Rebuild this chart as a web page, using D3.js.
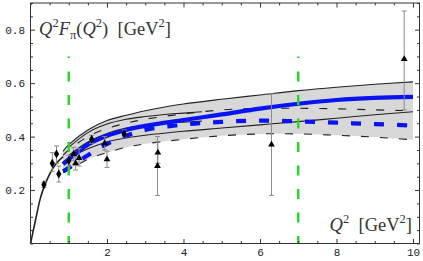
<!DOCTYPE html>
<html lang="en">
<head>
<meta charset="utf-8">
<script src="https://d3js.org/d3.v7.min.js"></script>
<title>Pion form factor</title>
<style>
  body { margin: 0; background: #fff; }
  svg { display: block; }
</style>
</head>
<body>
<div id="container"></div>
<script>
// ---- data ----
// band curves, all sampled on the same Q^2 grid
const bandX      = [0.85, 1, 1.5, 2, 2.5, 3, 4, 5, 6, 7, 8, 9, 10];
const upperSolid = [0.345, 0.37, 0.425, 0.46, 0.48, 0.497, 0.522, 0.54, 0.556, 0.572, 0.585, 0.596, 0.605];
const lowerSolid = [0.305, 0.32, 0.355, 0.38, 0.395, 0.405, 0.42, 0.432, 0.444, 0.456, 0.469, 0.482, 0.493];
const upperDash  = [0.33, 0.35, 0.40, 0.43, 0.45, 0.465, 0.485, 0.50, 0.506, 0.506, 0.504, 0.50, 0.497];
const lowerDash  = [0.265, 0.275, 0.315, 0.34, 0.36, 0.373, 0.39, 0.403, 0.41, 0.41, 0.405, 0.398, 0.388];
const blueSolid  = [0.297, 0.315, 0.37, 0.403, 0.425, 0.44, 0.462, 0.483, 0.505, 0.523, 0.537, 0.545, 0.549];
const blueDash   = [0.27, 0.283, 0.33, 0.373, 0.403, 0.425, 0.445, 0.455, 0.46, 0.457, 0.452, 0.447, 0.441];

// short inner pair, stops at Q^2 = 4.48
const innerX     = [1, 1.5, 2, 2.5, 3, 3.5, 4, 4.48];
const innerUpper = [0.36, 0.415, 0.447, 0.465, 0.475, 0.483, 0.488, 0.493];
const innerLower = [0.33, 0.38, 0.412, 0.432, 0.442, 0.449, 0.454, 0.458];

// low Q^2 curve from the origin
const originX = [0, 0.075, 0.15, 0.25, 0.35, 0.5, 0.65, 0.85];
const originY = [0, 0.05, 0.1, 0.165, 0.21, 0.26, 0.295, 0.325];

// data points: [Q2, value, low, high]
const diamondPts = [
  [0.35, 0.22, 0.21, 0.23],
  [0.57, 0.30, 0.27, 0.34],
  [0.68, 0.335, 0.30, 0.365],
  [0.74, 0.26, 0.23, 0.29],
  [1.0, 0.31, 0.29, 0.33],
  [1.6, 0.39, 0.375, 0.405],
  [2.45, 0.41, 0.395, 0.425]
];
const trianglePts = [
  [1.13, 0.335, 0.31, 0.36],
  [1.18, 0.30, 0.275, 0.325],
  [1.27, 0.32, 0.29, 0.355],
  [1.94, 0.375, 0.35, 0.40],
  [2.0, 0.315, 0.285, 0.345],
  [3.33, 0.34, 0.30, 0.38],
  [3.32, 0.29, 0.18, 0.40],
  [6.3, 0.37, 0.18, 0.56],
  [9.77, 0.69, 0.50, 0.87]
];

// vertical green markers
const markerX = [1, 7];
const markerTop = 0.7;

const xMajor = [2, 4, 6, 8, 10];
const yMajor = [0.2, 0.4, 0.6, 0.8];

// ---- layout ----
const W = 423, H = 261;
const L = 30.5, R = 419.5, T = 3, B = 243.5;

const svg = d3.select("#container").append("svg").attr("width", W).attr("height", H);

const x = d3.scaleLinear().domain([0, 10.17]).range([L, R]);
const y = d3.scaleLinear().domain([0, 0.9]).range([B, T]);

const xMinor = d3.range(0, 10.01, 0.5).filter(v => xMajor.indexOf(v) < 0);
const yMinor = d3.range(0, 0.901, 0.05).map(v => +v.toFixed(2)).filter(v => yMajor.indexOf(v) < 0);

const zip = (xs, ys) => xs.map((v, i) => [v, ys[i]]);
const line = d3.line().x(d => x(d[0])).y(d => y(d[1])).curve(d3.curveCatmullRom.alpha(0.5));

// gray band
const area = d3.area()
  .x(d => x(d[0])).y0(d => y(d[2])).y1(d => y(d[1]))
  .curve(d3.curveCatmullRom.alpha(0.5));
svg.append("path")
  .datum(bandX.map((v, i) => [v, upperSolid[i], lowerDash[i]]))
  .attr("d", area).attr("fill", "#d8d8d8");

// black curves
const blackCurves = [
  {xs: originX, ys: originY, dash: null, w: 1.6},
  {xs: bandX, ys: upperSolid, dash: null, w: 1.1},
  {xs: bandX, ys: lowerSolid, dash: null, w: 1.1},
  {xs: innerX, ys: innerUpper, dash: null, w: 1.1},
  {xs: innerX, ys: innerLower, dash: null, w: 1.1},
  {xs: bandX, ys: upperDash, dash: "8,11", w: 1.1},
  {xs: bandX, ys: lowerDash, dash: "8,11", w: 1.1}
];
blackCurves.forEach(c => {
  svg.append("path").datum(zip(c.xs, c.ys)).attr("d", line)
    .attr("fill", "none").attr("stroke", "#222").attr("stroke-width", c.w)
    .attr("stroke-dasharray", c.dash);
});

// blue curves
svg.append("path").datum(zip(bandX, blueSolid)).attr("d", line)
  .attr("fill", "none").attr("stroke", "#0a14f0").attr("stroke-width", 4.2);
svg.append("path").datum(zip(bandX, blueDash)).attr("d", line)
  .attr("fill", "none").attr("stroke", "#0a14f0").attr("stroke-width", 4.2)
  .attr("stroke-dasharray", "10,13");

// green vertical lines
svg.selectAll("line.mark").data(markerX).enter().append("line")
  .attr("class", "mark")
  .attr("x1", d => x(d)).attr("x2", d => x(d))
  .attr("y1", y(markerTop)).attr("y2", y(0))
  .attr("stroke", "#22d822").attr("stroke-width", 2.4)
  .attr("stroke-dasharray", "10,13.5").attr("stroke-dashoffset", 8.5);

// error bars
const allPts = diamondPts.concat(trianglePts);
const eb = svg.append("g").attr("stroke", "#8a8a8a").attr("stroke-width", 1);
allPts.forEach(p => {
  eb.append("line").attr("x1", x(p[0])).attr("x2", x(p[0])).attr("y1", y(p[2])).attr("y2", y(p[3]));
  [p[2], p[3]].forEach(v => {
    eb.append("line").attr("x1", x(p[0]) - 2.5).attr("x2", x(p[0]) + 2.5).attr("y1", y(v)).attr("y2", y(v));
  });
});

// markers
svg.selectAll("path.dia").data(diamondPts).enter().append("path")
  .attr("class", "dia")
  .attr("d", d3.symbol(d3.symbolDiamond, 24))
  .attr("transform", d => `translate(${x(d[0])},${y(d[1])})`)
  .attr("fill", "#000");
svg.selectAll("path.tri").data(trianglePts).enter().append("path")
  .attr("class", "tri")
  .attr("d", d3.symbol(d3.symbolTriangle, 20))
  .attr("transform", d => `translate(${x(d[0])},${y(d[1])})`)
  .attr("fill", "#000");

// frame + ticks
const tickFont = "'Liberation Mono', 'DejaVu Sans Mono', monospace";
function styleAxis(g) {
  g.select(".domain").remove();
  g.selectAll("line").attr("stroke", "#333");
  g.selectAll("text").attr("font-family", tickFont).attr("font-size", 11).attr("fill", "#222");
}
svg.append("g").attr("transform", `translate(0,${B})`)
  .call(d3.axisBottom(x).tickValues(xMajor).tickSizeInner(-4.5).tickSizeOuter(0).tickPadding(5).tickFormat(d3.format("d")))
  .call(styleAxis);
svg.append("g").attr("transform", `translate(0,${B})`)
  .call(d3.axisBottom(x).tickValues(xMinor).tickSizeInner(-2.5).tickSizeOuter(0).tickFormat(""))
  .call(styleAxis);
svg.append("g").attr("transform", `translate(0,${T})`)
  .call(d3.axisTop(x).tickValues(xMajor).tickSizeInner(-4.5).tickSizeOuter(0).tickFormat(""))
  .call(styleAxis);
svg.append("g").attr("transform", `translate(0,${T})`)
  .call(d3.axisTop(x).tickValues(xMinor).tickSizeInner(-2.5).tickSizeOuter(0).tickFormat(""))
  .call(styleAxis);
svg.append("g").attr("transform", `translate(${L},0)`)
  .call(d3.axisLeft(y).tickValues(yMajor).tickSizeInner(-4.5).tickSizeOuter(0).tickPadding(5.5).tickFormat(d3.format(".1f")))
  .call(styleAxis);
svg.append("g").attr("transform", `translate(${L},0)`)
  .call(d3.axisLeft(y).tickValues(yMinor).tickSizeInner(-2.5).tickSizeOuter(0).tickFormat(""))
  .call(styleAxis);
svg.append("g").attr("transform", `translate(${R},0)`)
  .call(d3.axisRight(y).tickValues(yMajor).tickSizeInner(-4.5).tickSizeOuter(0).tickFormat(""))
  .call(styleAxis);
svg.append("g").attr("transform", `translate(${R},0)`)
  .call(d3.axisRight(y).tickValues(yMinor).tickSizeInner(-2.5).tickSizeOuter(0).tickFormat(""))
  .call(styleAxis);

svg.append("rect").attr("x", L).attr("y", T).attr("width", R - L).attr("height", B - T)
  .attr("fill", "none").attr("stroke", "#333").attr("stroke-width", 1);

// labels
const serif = "'Liberation Serif', 'DejaVu Serif', serif";
function addLabel(xPos, yPos, anchor, parts) {
  const t = svg.append("text").attr("x", xPos).attr("y", yPos)
    .attr("text-anchor", anchor).attr("font-family", serif).attr("font-size", 18.5).attr("fill", "#333");
  parts.forEach(p => {
    const s = t.append("tspan").text(p.t);
    if (p.i) s.attr("font-style", "italic");
    if (p.sup) s.attr("font-size", 12.5).attr("dy", -8);
    if (p.sub) s.attr("font-size", 12.5).attr("dy", 4);
    if (p.back) s.attr("dy", p.back);
  });
}
addLabel(39, 35, "start", [
  {t: "Q", i: true}, {t: "2", sup: true}, {t: "F", i: true, back: 8}, {t: "π", sub: true},
  {t: "(", back: -4}, {t: "Q", i: true}, {t: "2", sup: true}, {t: ")", back: 8},
  {t: "\u00a0\u00a0[GeV"}, {t: "2", sup: true}, {t: "]", back: 8}
]);
addLabel(412, 231, "end", [
  {t: "Q", i: true}, {t: "2", sup: true}, {t: "\u00a0\u00a0[GeV", back: 8}, {t: "2", sup: true}, {t: "]", back: 8}
]);
</script>
</body>
</html>
